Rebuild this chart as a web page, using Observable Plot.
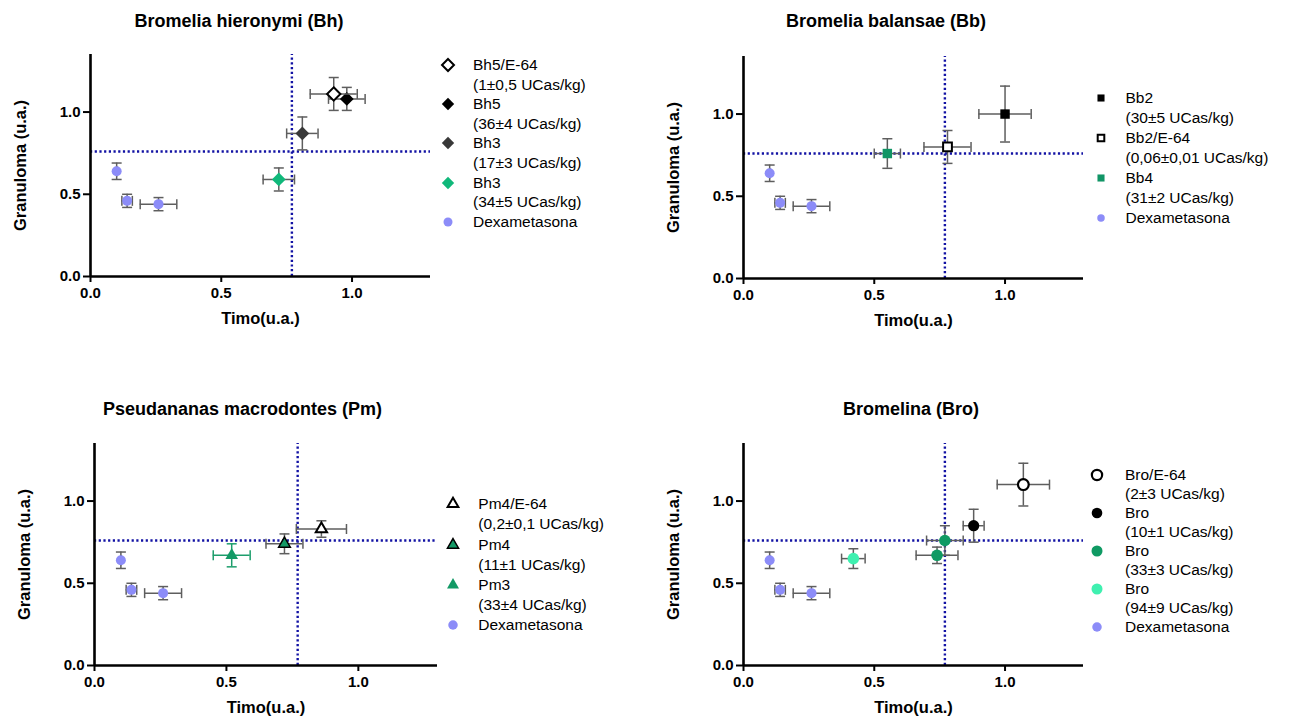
<!DOCTYPE html>
<html><head><meta charset="utf-8">
<script src="https://cdn.jsdelivr.net/npm/d3@7"></script>
<script src="https://cdn.jsdelivr.net/npm/@observablehq/plot@0.6"></script>
<style>
body{margin:0;background:#fff;font-family:"Liberation Sans",Arial,sans-serif;color:#000;}
#root{position:relative;width:1289px;height:717px;overflow:hidden;background:#fff;}
.title{position:absolute;font-weight:bold;font-size:18px;white-space:nowrap;transform:translate(-50%,-50%);}
.plot{position:absolute;}
.plot svg{overflow:visible;}
.row{position:absolute;transform:translateY(-50%);font-size:15.5px;white-space:nowrap;line-height:1;}
.sym{position:absolute;}
</style></head><body><div id="root"></div>
<script>
// ---------- data ----------
const xDomain = [0, 1.3];
const yDomain = [0, 1.35];
const xTicks = [0, 0.5, 1.0];
const yTicks = [0, 0.5, 1.0];
const refTimo = [0.77];
const refGranuloma = [0.76];
const xLabel = "Timo(u.a.)";
const yLabel = "Granuloma (u.a.)";

const dexametasona = [
  {serie: "Dexa", x: 0.10, y: 0.64, ex: 0.00, ey: 0.05},
  {serie: "Dexa", x: 0.14, y: 0.46, ex: 0.02, ey: 0.04},
  {serie: "Dexa", x: 0.26, y: 0.44, ex: 0.07, ey: 0.04}
];

const bhSeries = ["Bh5E64", "Bh5", "Bh3a", "Bh3b", "Dexa"];
const bhNames = ["Bh5/E-64", "Bh5", "Bh3", "Bh3", "Dexametasona"];
const bhDoses = ["(1±0,5 UCas/kg)", "(36±4 UCas/kg)", "(17±3 UCas/kg)", "(34±5 UCas/kg)", null];
const bhPoints = [
  {serie: "Bh5E64", x: 0.93, y: 1.11, ex: 0.09, ey: 0.10},
  {serie: "Bh5", x: 0.98, y: 1.08, ex: 0.07, ey: 0.07},
  {serie: "Bh3a", x: 0.81, y: 0.87, ex: 0.06, ey: 0.10},
  {serie: "Bh3b", x: 0.72, y: 0.59, ex: 0.06, ey: 0.07}
];

const bbSeries = ["Bb2", "Bb2E64", "Bb4", "Dexa"];
const bbNames = ["Bb2", "Bb2/E-64", "Bb4", "Dexametasona"];
const bbDoses = ["(30±5 UCas/kg)", "(0,06±0,01 UCas/kg)", "(31±2 UCas/kg)", null];
const bbPoints = [
  {serie: "Bb2", x: 1.00, y: 1.00, ex: 0.10, ey: 0.17},
  {serie: "Bb2E64", x: 0.78, y: 0.80, ex: 0.09, ey: 0.10},
  {serie: "Bb4", x: 0.55, y: 0.76, ex: 0.05, ey: 0.09}
];

const pmSeries = ["Pm4E64", "Pm4", "Pm3", "Dexa"];
const pmNames = ["Pm4/E-64", "Pm4", "Pm3", "Dexametasona"];
const pmDoses = ["(0,2±0,1 UCas/kg)", "(11±1 UCas/kg)", "(33±4 UCas/kg)", null];
const pmPoints = [
  {serie: "Pm4E64", x: 0.86, y: 0.83, ex: 0.095, ey: 0.05},
  {serie: "Pm4", x: 0.72, y: 0.74, ex: 0.07, ey: 0.06},
  {serie: "Pm3", x: 0.52, y: 0.67, ex: 0.07, ey: 0.07}
];

const broSeries = ["BroE64", "Bro10", "Bro33", "Bro94", "Dexa"];
const broNames = ["Bro/E-64", "Bro", "Bro", "Bro", "Dexametasona"];
const broDoses = ["(2±3 UCas/kg)", "(10±1 UCas/kg)", " (33±3 UCas/kg)", "(94±9 UCas/kg)", null];
const broPoints = [
  {serie: "BroE64", x: 1.07, y: 1.10, ex: 0.10, ey: 0.13},
  {serie: "Bro10", x: 0.88, y: 0.85, ex: 0.04, ey: 0.10},
  {serie: "Bro33", x: 0.77, y: 0.76, ex: 0.07, ey: 0.09},
  {serie: "Bro33", x: 0.74, y: 0.67, ex: 0.08, ey: 0.05},
  {serie: "Bro94", x: 0.42, y: 0.65, ex: 0.045, ey: 0.06}
];

// ---------- styles ----------
const BAR = "#5e5e5e";
const styles = {
  Dexa:   {symbol: "circle", fill: "#8c8cf8", stroke: "none", r: 5},
  Bh5E64: {symbol: "diamond2", fill: "#fff", stroke: "#000", sw: 2, r: 6},
  Bh5:    {symbol: "diamond2", fill: "#000", stroke: "none", r: 6.2},
  Bh3a:   {symbol: "diamond2", fill: "#383838", stroke: "none", r: 6.2},
  Bh3b:   {symbol: "diamond2", fill: "#10b87a", stroke: "none", r: 6.2},
  Bb2:    {symbol: "square2", fill: "#000", stroke: "none", r: 6},
  Bb2E64: {symbol: "square2", fill: "#fff", stroke: "#000", sw: 2, r: 5.6},
  Bb4:    {symbol: "square2", fill: "#119566", stroke: "none", r: 6},
  Pm4E64: {symbol: "triangle2", fill: "#fff", stroke: "#000", sw: 2, r: 5.4},
  Pm4:    {symbol: "triangle2", fill: "#139a66", stroke: "#000", sw: 1.5, r: 5.6},
  Pm3:    {symbol: "triangle2", fill: "#139a66", stroke: "none", r: 6, bar: "#1d9e6c"},
  BroE64: {symbol: "circle", fill: "#fff", stroke: "#000", sw: 2.2, r: 5.4},
  Bro10:  {symbol: "circle", fill: "#000", stroke: "none", r: 5.6},
  Bro33:  {symbol: "circle", fill: "#0f9a63", stroke: "none", r: 5.8},
  Bro94:  {symbol: "circle", fill: "#3ff0b0", stroke: "none", r: 5.8}
};
const d3Symbols = {circle: d3.symbolCircle, diamond2: d3.symbolDiamond2, square2: d3.symbolSquare2, triangle2: d3.symbolTriangle2};

const vcap = {draw(ctx, size) { const r = Math.sqrt(size / Math.PI); ctx.moveTo(0, -r); ctx.lineTo(0, r); }};
const hcap = {draw(ctx, size) { const r = Math.sqrt(size / Math.PI); ctx.moveTo(-r, 0); ctx.lineTo(r, 0); }};

const root = document.getElementById("root");
const DOT = {stroke: "#1212a4", strokeWidth: 2.4, strokeDasharray: "2.2 2.5"};

function panel(cfg) {
  const {points, series, names, doses, title, titleX, titleY, left, top, marginRight, legend} = cfg;
  const all = points.concat(dexametasona);
  const marks = [
    Plot.ruleY(refGranuloma, {x1: xDomain[0], x2: xDomain[1], ...DOT}),
    Plot.ruleX(refTimo, {y1: yDomain[0], y2: yDomain[1], ...DOT})
  ];
  const order = series.slice().reverse();
  for (const s of order) {
    const d = all.filter(p => p.serie === s);
    const st = styles[s];
    const bar = st.bar || BAR;
    marks.push(
      Plot.ruleY(d, {y: "y", x1: p => p.x - p.ex, x2: p => p.x + p.ex, stroke: bar, strokeWidth: 1.5}),
      Plot.ruleX(d, {x: "x", y1: p => p.y - p.ey, y2: p => p.y + p.ey, stroke: bar, strokeWidth: 1.5}),
      Plot.dot(d, {x: p => p.x - p.ex, y: "y", symbol: vcap, r: 5, fill: "none", stroke: bar, strokeWidth: 1.5}),
      Plot.dot(d, {x: p => p.x + p.ex, y: "y", symbol: vcap, r: 5, fill: "none", stroke: bar, strokeWidth: 1.5}),
      Plot.dot(d, {x: "x", y: p => p.y - p.ey, symbol: hcap, r: 5, fill: "none", stroke: bar, strokeWidth: 1.5}),
      Plot.dot(d, {x: "x", y: p => p.y + p.ey, symbol: hcap, r: 5, fill: "none", stroke: bar, strokeWidth: 1.5}),
      Plot.dot(d, {x: "x", y: "y", symbol: st.symbol, r: st.r, fill: st.fill, stroke: st.stroke, strokeWidth: st.sw || 0})
    );
  }
  marks.push(
    Plot.ruleX([xDomain[0]], {y1: yDomain[0], y2: yDomain[1], stroke: "#000", strokeWidth: 2.6}),
    Plot.ruleY([yDomain[0]], {x1: xDomain[0], x2: xDomain[1], stroke: "#000", strokeWidth: 2.6}),
    Plot.axisX({ticks: xTicks, tickFormat: d3.format(".1f"), tickSize: 6, tickPadding: 5, strokeWidth: 2, label: null, fontSize: 15, fontWeight: "bold"}),
    Plot.axisY({ticks: yTicks, tickFormat: d3.format(".1f"), tickSize: 7, tickPadding: 3, strokeWidth: 2, label: null, fontSize: 15, fontWeight: "bold"}),
    Plot.text([xLabel], {text: d => d, frameAnchor: "bottom", textAnchor: "middle", dy: 42, fontSize: 16.5, fontWeight: "bold", lineAnchor: "middle"}),
    Plot.text([yLabel], {text: d => d, frameAnchor: "left", textAnchor: "middle", dx: -70, rotate: -90, fontSize: 16.5, fontWeight: "bold", lineAnchor: "middle"})
  );
  const chart = Plot.plot({
    width: 440, height: 302,
    marginLeft: 90, marginTop: 20, marginRight: marginRight, marginBottom: 60,
    x: {domain: xDomain}, y: {domain: yDomain},
    style: {fontFamily: "'Liberation Sans', Arial, sans-serif", fontSize: "15px", color: "#000", background: "transparent", overflow: "visible"},
    marks
  });
  const wrap = document.createElement("div");
  wrap.className = "plot";
  wrap.style.left = left + "px";
  wrap.style.top = top + "px";
  wrap.appendChild(chart);
  root.appendChild(wrap);

  const t = document.createElement("div");
  t.className = "title";
  t.textContent = title;
  t.style.left = titleX + "px";
  t.style.top = titleY + "px";
  root.appendChild(t);

  // legend
  let line = 0;
  series.forEach((s, i) => {
    const y = legend.y0 + line * legend.lh;
    const st = styles[s];
    const size = Math.PI * (st.r * legend.k) ** 2;
    const svg = d3.create("svg").attr("class", "sym").attr("width", 20).attr("height", 20)
      .style("left", (legend.symX - 10) + "px").style("top", (y - 10) + "px");
    svg.append("path").attr("transform", "translate(10,10)")
      .attr("d", d3.symbol(d3Symbols[st.symbol], size)())
      .attr("fill", st.fill).attr("stroke", st.stroke).attr("stroke-width", st.sw || 0);
    root.appendChild(svg.node());
    const r1 = document.createElement("div");
    r1.className = "row"; r1.textContent = names[i];
    r1.style.left = legend.textX + "px"; r1.style.top = y + "px";
    root.appendChild(r1);
    line++;
    if (doses[i]) {
      const r2 = document.createElement("div");
      r2.className = "row"; r2.textContent = doses[i];
      r2.style.left = legend.textX + "px"; r2.style.top = (legend.y0 + line * legend.lh) + "px";
      root.appendChild(r2);
      line++;
    }
  });
}

panel({points: bhPoints, series: bhSeries, names: bhNames, doses: bhDoses,
  title: "Bromelia hieronymi (Bh)", titleX: 239, titleY: 21, left: 0, top: 34, marginRight: 10,
  legend: {symX: 447.7, textX: 473, y0: 65, lh: 19.6, k: 0.9}});
panel({points: bbPoints, series: bbSeries, names: bbNames, doses: bbDoses,
  title: "Bromelia balansae (Bb)", titleX: 886, titleY: 21, left: 653.3, top: 36, marginRight: 10,
  legend: {symX: 1100.7, textX: 1125.5, y0: 98.3, lh: 20, k: 0.75}});
panel({points: pmPoints, series: pmSeries, names: pmNames, doses: pmDoses,
  title: "Pseudananas macrodontes (Pm)", titleX: 242.5, titleY: 409, left: 4, top: 422.7, marginRight: 7,
  legend: {symX: 452.7, textX: 478.3, y0: 504.3, lh: 20.1, k: 0.95}});
panel({points: broPoints, series: broSeries, names: broNames, doses: broDoses,
  title: "Bromelina (Bro)", titleX: 911, titleY: 409, left: 652.7, top: 422.7, marginRight: 10,
  legend: {symX: 1097.3, textX: 1125, y0: 475, lh: 19, k: 0.95}});
</script></body></html>
